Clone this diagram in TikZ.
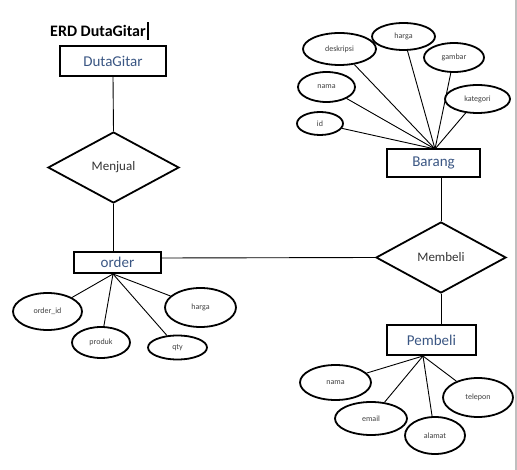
\documentclass[tikz,border=0pt]{standalone}
\usepackage{fontspec}
\setmainfont{Carlito}
\usetikzlibrary{positioning}
\usetikzlibrary{shapes.geometric}

\definecolor{entitytext}{HTML}{3A5683}
\definecolor{attrtext}{HTML}{404040}

\begin{document}
\begin{tikzpicture}
                [
                    x=1pt, y=-1pt,
                    entity/.style = {rectangle, draw, line width=1.8pt, inner sep=0pt, text=entitytext, font=\fontsize{15}{17}\selectfont},
                    relation/.style = {diamond, draw, line width=1.8pt, inner sep=0pt, font=\fontsize{13}{15}\selectfont, text=black!80},
                    attr/.style = {ellipse, draw, line width=1.8pt, inner sep=0pt, font=\fontsize{8}{9}\selectfont, text=attrtext},
                    link/.style = {line width=0.9pt}
                ]
                \useasboundingbox (0,0) rectangle (517,470);
                \fill[black!25] (515,0) rectangle (517,470);

                \node (title) [anchor=west, inner sep=0pt, font=\bfseries\fontsize{16}{18}\selectfont] at (50,31) {ERD DutaGitar};
                \node (cursor) [right=0.5pt of title, inner sep=0pt, minimum width=2pt, minimum height=18pt, fill=black] {};

                % Entitas
                \node (dutagitar) [entity, minimum width=106pt, minimum height=30pt] at (113,61) {DutaGitar};
                \node (order) [entity, minimum width=87pt, minimum height=21pt] at (117.5,262.5) {order};
                \node (barang) [entity, minimum width=93pt, minimum height=28pt] at (433.5,163) {Barang};
                \node (pembeli) [entity, minimum width=89pt, minimum height=30pt] at (431.5,340) {Pembeli};

                % Relasi
                \node (menjual) [relation, minimum width=131pt, minimum height=71pt] at (113.5,167.5) {Menjual};
                \node (membeli) [relation, minimum width=130pt, minimum height=71pt] at (441,257.5) {Membeli};

                \draw[link] (dutagitar.south) -- (menjual.north);
                \draw[link] (menjual.south) -- (order.north -| menjual.south);
                \draw[link] (order.east |- 0,258) -- (membeli.west);
                \draw[link] (barang.south -| membeli.north) -- (membeli.north);
                \draw[link] (membeli.south) -- (pembeli.north -| membeli.south);

                % Atribut Barang
                \coordinate (barangtop) at (435,149);
                \node (deskripsi) [attr, minimum width=73pt, minimum height=32pt] at (339.5,49) {deskripsi};
                \node (hargab) [attr, minimum width=63pt, minimum height=27pt] at (403.5,36.5) {harga};
                \node (gambar) [attr, minimum width=60pt, minimum height=29pt] at (454,57.5) {gambar};
                \node (namab) [attr, minimum width=57pt, minimum height=30pt] at (326.5,87) {nama};
                \node (kategori) [attr, minimum width=65pt, minimum height=28pt] at (477.5,99) {kategori};
                \node (id) [attr, minimum width=46pt, minimum height=23pt] at (320,123.5) {id};
                \foreach \a in {deskripsi, hargab, gambar, namab, kategori, id}
                    \draw[link] (\a) -- (barangtop);

                % Atribut order
                \coordinate (ordertop) at (113,274);
                \node (orderid) [attr, minimum width=69pt, minimum height=37pt] at (47.5,311.5) {order\_id};
                \node (produk) [attr, minimum width=58pt, minimum height=31pt] at (101,342.5) {produk};
                \node (qty) [attr, minimum width=59pt, minimum height=24pt] at (177.5,347.5) {qty};
                \node (hargao) [attr, minimum width=71pt, minimum height=39pt] at (200.5,307.5) {harga};
                \foreach \a in {orderid, produk, qty, hargao}
                    \draw[link] (\a) -- (ordertop);

                % Atribut Pembeli
                \coordinate (pembelibottom) at (423,356);
                \node (namap) [attr, minimum width=71pt, minimum height=35pt] at (335.5,382.5) {nama};
                \node (email) [attr, minimum width=72pt, minimum height=33pt] at (371,418.5) {email};
                \node (alamat) [attr, minimum width=60pt, minimum height=37pt] at (435,435.5) {alamat};
                \node (telepon) [attr, minimum width=70pt, minimum height=39pt] at (478,397.5) {telepon};
                \foreach \a in {namap, email, alamat, telepon}
                    \draw[link] (\a) -- (pembelibottom);

            \end{tikzpicture}
\end{document}
